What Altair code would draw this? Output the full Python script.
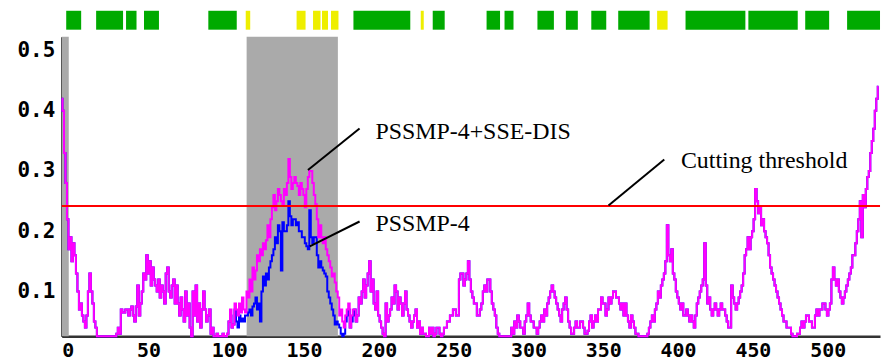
import altair as alt
import pandas as pd

# ---------------- data ----------------
# PSSMP-4+SSE-DIS score per residue (magenta), residues 0..546
sse_dis = [
    0.42, 0.40, 0.33, 0.28, 0.22, 0.17, 0.19, 0.15, 0.18, 0.16,
    0.13, 0.10, 0.07, 0.08, 0.06, 0.05, 0.04, 0.06, 0.10, 0.13,
    0.10, 0.08, 0.05, 0.04, 0.02, 0.02, 0.02, 0.02, 0.02, 0.02,
    0.02, 0.02, 0.02, 0.02, 0.02, 0.02, 0.02, 0.03, 0.04, 0.03,
    0.07, 0.065, 0.065, 0.07, 0.07, 0.06, 0.07, 0.075, 0.06, 0.05,
    0.075, 0.11, 0.06, 0.08, 0.10, 0.13, 0.12, 0.16, 0.13, 0.15,
    0.11, 0.14, 0.12, 0.11, 0.10, 0.12, 0.09, 0.11, 0.10, 0.08,
    0.13, 0.14, 0.10, 0.09, 0.11, 0.12, 0.08, 0.11, 0.08, 0.06,
    0.09, 0.07, 0.05, 0.10, 0.06, 0.08, 0.04, 0.02, 0.10, 0.06,
    0.11, 0.05, 0.08, 0.04, 0.07, 0.10, 0.07, 0.05, 0.06, 0.07,
    0.03, 0.04, 0.02, 0.02, 0.03, 0.02, 0.02, 0.02, 0.03, 0.02,
    0.02, 0.03, 0.05, 0.07, 0.04, 0.045, 0.08, 0.07, 0.06, 0.08,
    0.065, 0.09, 0.07, 0.065, 0.10, 0.09, 0.12, 0.10, 0.14, 0.12,
    0.135, 0.16, 0.15, 0.17, 0.16, 0.18, 0.17, 0.185, 0.21, 0.19,
    0.22, 0.24, 0.26, 0.235, 0.25, 0.27, 0.26, 0.25, 0.245, 0.27,
    0.26, 0.28, 0.32, 0.29, 0.27, 0.28, 0.29, 0.28, 0.275, 0.26,
    0.28, 0.27, 0.26, 0.24, 0.27, 0.29, 0.30, 0.30, 0.28, 0.26,
    0.245, 0.22, 0.19, 0.21, 0.19, 0.18, 0.19, 0.17, 0.16, 0.15,
    0.14, 0.125, 0.13, 0.115, 0.10, 0.09, 0.06, 0.07, 0.05, 0.04,
    0.06, 0.07, 0.08, 0.04, 0.06, 0.07, 0.07, 0.05, 0.06, 0.09,
    0.08, 0.10, 0.12, 0.09, 0.11, 0.13, 0.15, 0.10, 0.12, 0.08,
    0.07, 0.10, 0.06, 0.05, 0.04, 0.03, 0.02, 0.08, 0.05, 0.06,
    0.07, 0.09, 0.08, 0.11, 0.10, 0.07, 0.09, 0.08, 0.06, 0.08,
    0.10, 0.07, 0.06, 0.05, 0.04, 0.05, 0.06, 0.07, 0.04, 0.05,
    0.03, 0.04, 0.03, 0.03, 0.02, 0.025, 0.04, 0.03, 0.04, 0.02,
    0.03, 0.04, 0.04, 0.03, 0.02, 0.03, 0.04, 0.04, 0.05, 0.05,
    0.06, 0.06, 0.07, 0.07, 0.06, 0.06, 0.12, 0.13, 0.13, 0.11,
    0.12, 0.13, 0.15, 0.12, 0.10, 0.09, 0.08, 0.08, 0.06, 0.06,
    0.07, 0.08, 0.10, 0.11, 0.10, 0.12, 0.12, 0.10, 0.08, 0.07,
    0.06, 0.04, 0.03, 0.02, 0.02, 0.02, 0.02, 0.02, 0.02, 0.02,
    0.02, 0.04, 0.03, 0.05, 0.04, 0.06, 0.05, 0.04, 0.04, 0.03,
    0.05, 0.06, 0.08, 0.06, 0.05, 0.05, 0.04, 0.04, 0.03, 0.04,
    0.05, 0.06, 0.05, 0.07, 0.06, 0.08, 0.09, 0.10, 0.11, 0.10,
    0.09, 0.08, 0.07, 0.06, 0.05, 0.07, 0.08, 0.09, 0.07, 0.05,
    0.04, 0.03, 0.03, 0.04, 0.05, 0.04, 0.04, 0.05, 0.05, 0.04,
    0.03, 0.03, 0.035, 0.05, 0.06, 0.04, 0.05, 0.06, 0.05, 0.07,
    0.07, 0.09, 0.08, 0.08, 0.06, 0.07, 0.09, 0.08, 0.09, 0.10,
    0.10, 0.09, 0.09, 0.08, 0.07, 0.08, 0.06, 0.08, 0.06, 0.05,
    0.04, 0.06, 0.05, 0.04, 0.03, 0.03, 0.02, 0.02, 0.02, 0.02,
    0.02, 0.02, 0.03, 0.04, 0.05, 0.06, 0.05, 0.07, 0.08, 0.10,
    0.09, 0.11, 0.12, 0.13, 0.15, 0.21, 0.16, 0.15, 0.17, 0.13,
    0.12, 0.10, 0.09, 0.08, 0.07, 0.08, 0.06, 0.06, 0.07, 0.06,
    0.05, 0.06, 0.05, 0.04, 0.06, 0.08, 0.09, 0.10, 0.11, 0.12,
    0.18, 0.11, 0.08, 0.09, 0.07, 0.06, 0.07, 0.08, 0.07, 0.06,
    0.07, 0.08, 0.07, 0.07, 0.06, 0.05, 0.04, 0.04, 0.11, 0.09,
    0.08, 0.07, 0.08, 0.09, 0.10, 0.11, 0.13, 0.16, 0.17, 0.19,
    0.17, 0.19, 0.20, 0.22, 0.27, 0.25, 0.23, 0.24, 0.21, 0.22,
    0.20, 0.19, 0.18, 0.16, 0.14, 0.13, 0.12, 0.11, 0.10, 0.09,
    0.08, 0.07, 0.06, 0.05, 0.05, 0.04, 0.04, 0.04, 0.03, 0.02,
    0.02, 0.02, 0.03, 0.03, 0.04, 0.05, 0.04, 0.05, 0.06, 0.06,
    0.05, 0.05, 0.04, 0.04, 0.06, 0.07, 0.06, 0.07, 0.07, 0.08,
    0.08, 0.07, 0.06, 0.07, 0.08, 0.12, 0.14, 0.12, 0.11, 0.12,
    0.10, 0.09, 0.08, 0.09, 0.10, 0.11, 0.12, 0.13, 0.14, 0.16,
    0.16, 0.18, 0.20, 0.22, 0.25, 0.19, 0.26, 0.24, 0.27, 0.29,
    0.30, 0.33, 0.35, 0.37, 0.40, 0.42, 0.44,
]

# PSSMP-4 score (blue): read separately for residues 110..195,
# elsewhere it lies under the magenta curve
pssmp4_mid = [
    0.02, 0.03, 0.05, 0.06, 0.04, 0.045, 0.07, 0.05, 0.04, 0.06,
    0.05, 0.055, 0.05, 0.06, 0.06, 0.065, 0.07, 0.06, 0.075, 0.08,
    0.09, 0.07, 0.08, 0.05, 0.10, 0.125, 0.11, 0.13, 0.12, 0.14,
    0.15, 0.16, 0.17, 0.19, 0.18, 0.21, 0.20, 0.135, 0.215, 0.20,
    0.20, 0.21, 0.25, 0.225, 0.21, 0.22, 0.22, 0.21, 0.215, 0.20,
    0.20, 0.19, 0.19, 0.18, 0.175, 0.17, 0.235, 0.19, 0.18, 0.19,
    0.19, 0.16, 0.14, 0.15, 0.14, 0.135, 0.13, 0.125, 0.10, 0.09,
    0.08, 0.07, 0.06, 0.045, 0.05, 0.045, 0.04, 0.03, 0.025, 0.03,
    0.05, 0.06, 0.07, 0.04, 0.05, 0.06,
]
pssmp4 = sse_dis[:110] + pssmp4_mid + sse_dis[196:]

threshold = [0.242]

# shaded regions (residues)
shade_start = [0, 123.6]
shade_end = [4.7, 184.6]

# secondary-structure track along the top
track_start = [3, 23, 43, 55, 98, 123, 157, 168, 174, 180, 195, 240,
               248, 284, 296, 318, 337, 354, 372, 398, 417, 459, 497, 525]
track_end = [13, 41, 50, 65, 117, 126, 163, 173, 178, 185, 233, 242,
             256, 293, 302, 329, 345, 364, 393, 405, 457, 492, 513, 547]
track_type = ["helix", "helix", "helix", "helix", "helix", "strand",
              "strand", "strand", "strand", "strand", "helix", "strand",
              "helix", "helix", "helix", "helix", "helix", "helix",
              "helix", "strand", "helix", "helix", "helix", "helix"]

# annotations (data coordinates)
label_text = ["PSSMP-4+SSE-DIS", "PSSMP-4", "Cutting threshold"]
label_x = [209.7, 209.7, 413.9]
label_y = [0.354, 0.200, 0.3045]
leader_x = [199.1, 199.1, 402.8]
leader_x2 = [164.6, 165.8, 365.5]
leader_y = [0.3706, 0.2162, 0.3193]
leader_y2 = [0.3017, 0.1749, 0.2426]

x_ticks = [0, 50, 100, 150, 200, 250, 300, 350, 400, 450, 500]
y_ticks = [0.1, 0.2, 0.3, 0.4, 0.5]

# ---------------- tables ----------------
n = len(sse_dis)
lines_blue = pd.DataFrame({"residue": list(range(n)), "score": pssmp4})
lines_mag = pd.DataFrame({"residue": list(range(n)), "score": sse_dis})
shade = pd.DataFrame({"start": shade_start, "end": shade_end})
track = pd.DataFrame({"start": track_start, "end": track_end, "type": track_type})
thr = pd.DataFrame({"y": threshold})
labels = pd.DataFrame({"x": label_x, "y": label_y, "text": label_text})
leaders = pd.DataFrame({"x": leader_x, "x2": leader_x2, "y": leader_y, "y2": leader_y2})

XDOM = [0, 547]
YDOM = [0.0256, 0.5231]
W, H = 822, 301

xscale = alt.Scale(domain=XDOM, nice=False, zero=False)
yscale = alt.Scale(domain=YDOM, nice=False, zero=False, clamp=True)

xaxis = alt.Axis(values=x_ticks, title=None, ticks=False, grid=False,
                 labelAlign="left", labelPadding=4, labelFlush=False,
                 labelFont="DejaVu Sans Mono", labelFontWeight="bold",
                 labelFontSize=20, labelColor="black",
                 domainColor="#333333", domainWidth=2.5, labelOverlap=False)
yaxis = alt.Axis(values=y_ticks, title=None, ticks=False, grid=False,
                 format=".1f", labelPadding=7,
                 labelFont="DejaVu Sans Mono", labelFontWeight="bold",
                 labelFontSize=21, labelColor="black",
                 domainColor="black", domainWidth=2, labelOverlap=False)

shade_layer = alt.Chart(shade).mark_rect(color="#aaaaaa").encode(
    x=alt.X("start:Q", scale=xscale, axis=xaxis),
    x2="end:Q",
)

blue_layer = alt.Chart(lines_blue).mark_line(
    color="#0000ff", strokeWidth=2, interpolate="step"
).encode(
    x=alt.X("residue:Q", scale=xscale, axis=xaxis),
    y=alt.Y("score:Q", scale=yscale, axis=yaxis),
)

mag_layer = alt.Chart(lines_mag).mark_line(
    color="#ff00ff", strokeWidth=2, interpolate="step"
).encode(
    x=alt.X("residue:Q", scale=xscale, axis=xaxis),
    y=alt.Y("score:Q", scale=yscale, axis=yaxis),
)

thr_layer = alt.Chart(thr).mark_rule(color="#ff0000", strokeWidth=2).encode(
    y=alt.Y("y:Q", scale=yscale, axis=yaxis),
)

leader_layer = alt.Chart(leaders).mark_rule(color="black", strokeWidth=2).encode(
    x=alt.X("x:Q", scale=xscale, axis=xaxis),
    x2="x2:Q",
    y=alt.Y("y:Q", scale=yscale, axis=yaxis),
    y2="y2:Q",
)

text_layer = alt.Chart(labels).mark_text(
    align="left", baseline="alphabetic", font="Liberation Serif",
    fontSize=24, color="black"
).encode(
    x=alt.X("x:Q", scale=xscale, axis=xaxis),
    y=alt.Y("y:Q", scale=yscale, axis=yaxis),
    text="text:N",
)

main = alt.layer(
    shade_layer, blue_layer, mag_layer, thr_layer, leader_layer, text_layer
).properties(width=W, height=H)

top = alt.Chart(track).mark_rect().encode(
    x=alt.X("start:Q", scale=alt.Scale(domain=XDOM, nice=False, zero=False), axis=None),
    x2="end:Q",
    color=alt.Color("type:N", scale=alt.Scale(domain=["helix", "strand"],
                                               range=["#00aa00", "#eeee00"]),
                    legend=None),
).properties(width=W, height=19)

chart = alt.vconcat(top, main, spacing=7, bounds="flush").properties(
    padding={"left": 17, "top": 10, "right": 0, "bottom": 0},
    background="white",
).configure_view(stroke=None)

chart.save("out.html", embed_options={"renderer": "svg", "actions": False})
